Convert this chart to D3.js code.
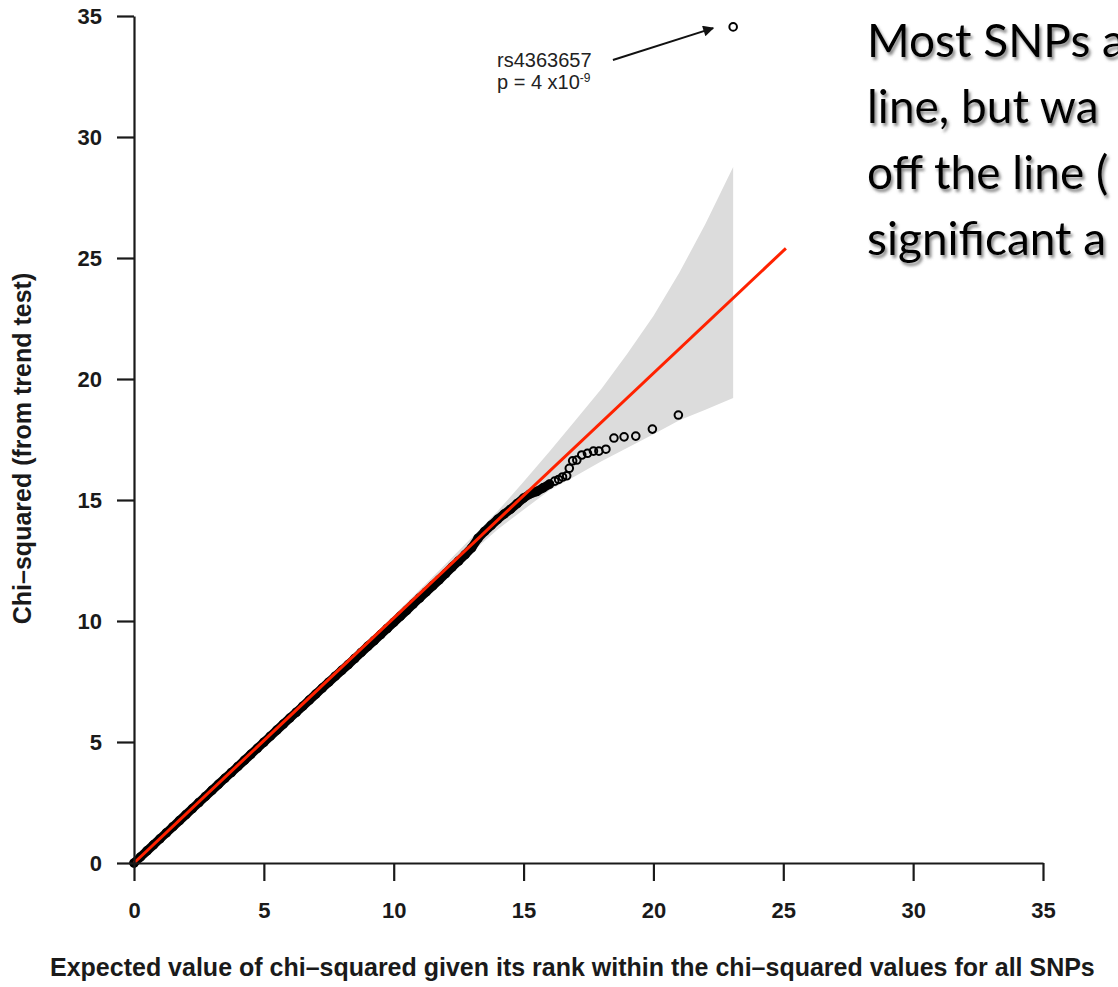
<!DOCTYPE html>
<html>
<head>
<meta charset="utf-8">
<script src="https://cdn.jsdelivr.net/npm/d3@7"></script>
<style>
  body { margin: 0; background: #fff; }
  svg { display: block; }
</style>
</head>
<body>
<div id="chart"></div>
<script>
const W = 1118, H = 987;

// axis ticks
const xTicks = [0, 5, 10, 15, 20, 25, 30, 35];
const yTicks = [0, 5, 10, 15, 20, 25, 30, 35];

// dense part of the QQ cloud (expected, observed)
const densePoints = [
  [0,0],[0.25,0.25],[0.5,0.5],[0.75,0.75],[1,1],[1.25,1.25],[1.5,1.5],[1.75,1.75],[2,2],
  [2.25,2.25],[2.5,2.5],[2.75,2.75],[3,3],[3.25,3.25],[3.5,3.5],[3.75,3.74],[4,3.99],
  [4.25,4.24],[4.5,4.49],[4.75,4.74],[5,4.99],[5.25,5.24],[5.5,5.49],[5.75,5.74],[6,5.99],
  [6.25,6.23],[6.5,6.48],[6.75,6.73],[7,6.98],[7.25,7.23],[7.5,7.47],[7.75,7.72],[8,7.96],
  [8.25,8.2],[8.5,8.45],[8.75,8.7],[9,8.95],[9.25,9.19],[9.5,9.44],[9.75,9.69],[10,9.94],
  [10.25,10.19],[10.5,10.44],[10.75,10.7],[11,10.95],[11.25,11.2],[11.5,11.45],[11.75,11.7],
  [12,11.96],[12.25,12.23],[12.5,12.48],[12.75,12.74],[13,13.02],[13.25,13.42],[13.5,13.7],
  [13.75,13.95],[14,14.2],[14.25,14.42],[14.5,14.62],[14.75,14.85],[15,15.08],[15.25,15.25],
  [15.5,15.35],[15.75,15.5],[16,15.66]
];

// sparse tail of the QQ plot
const tailPoints = [
  [16.2,15.78],[16.35,15.85],[16.5,15.95],[16.66,16.0],[16.76,16.31],[16.89,16.62],
  [17.05,16.65],[17.24,16.86],[17.46,16.93],[17.69,17.02],[17.9,17.02],[18.17,17.1],
  [18.48,17.56],[18.87,17.61],[19.32,17.64],[19.96,17.93],[20.96,18.51],[23.07,34.55]
];

// grey envelope
const bandX     = [0, 5, 8, 10, 12, 14, 15, 16, 17, 18, 19, 20, 21, 22, 23.07];
const bandUpper = [0, 5.09, 8.15, 10.23, 12.36, 14.54, 15.75, 17.0, 18.3, 19.6, 21.05, 22.6, 24.4, 26.4, 28.76];
const bandLower = [0, 5.03, 8.02, 9.98, 11.9, 13.78, 14.6, 15.4, 15.99, 16.6, 17.16, 17.72, 18.3, 18.73, 19.21];

// reference line
const refLine = [[0, 0], [25.1, 25.4]];

// annotation
const arrowFrom = [18.44, 33.18];
const arrowTo = [22.3, 34.5];
const snpLabel = "rs4363657";

const noteLines = ["Most SNPs a", "line, but wa", "off the line (", "significant a"];

const svg = d3.select("#chart").append("svg")
  .attr("width", W)
  .attr("height", H)
  .style("background", "#fff");

const defs = svg.append("defs");
const shadow = defs.append("filter").attr("id", "shadow")
  .attr("x", "-10%").attr("y", "-10%").attr("width", "130%").attr("height", "140%");
shadow.append("feDropShadow")
  .attr("dx", 2).attr("dy", 3).attr("stdDeviation", 1.6)
  .attr("flood-color", "#555").attr("flood-opacity", 0.7);

defs.append("marker").attr("id", "arrow")
  .attr("viewBox", "0 0 10 10").attr("refX", 9).attr("refY", 5)
  .attr("markerWidth", 13).attr("markerHeight", 11)
  .attr("markerUnits", "userSpaceOnUse")
  .attr("orient", "auto")
  .append("path").attr("d", "M0,0 L10,5 L0,10 z").attr("fill", "#111");

const x = d3.scaleLinear().domain([0, 35]).range([134, 1043]);
const y = d3.scaleLinear().domain([0, 35]).range([863, 16]);

// envelope
const band = bandX.map((v, i) => [v, bandLower[i], bandUpper[i]]);
svg.append("path")
  .datum(band)
  .attr("fill", "#dcdcdc")
  .attr("d", d3.area().x(d => x(d[0])).y0(d => y(d[1])).y1(d => y(d[2])));

// dense cloud of points
svg.append("path")
  .datum(densePoints)
  .attr("fill", "none")
  .attr("stroke", "#000")
  .attr("stroke-width", 9)
  .attr("stroke-linecap", "round")
  .attr("d", d3.line().x(d => x(d[0])).y(d => y(d[1])));

svg.append("g")
  .selectAll("circle")
  .data(densePoints.concat(tailPoints))
  .join("circle")
  .attr("cx", d => x(d[0]))
  .attr("cy", d => y(d[1]))
  .attr("r", 3.8)
  .attr("fill", "none")
  .attr("stroke", "#000")
  .attr("stroke-width", 2);

// red line
svg.append("path")
  .datum(refLine)
  .attr("fill", "none")
  .attr("stroke", "#ff2200")
  .attr("stroke-width", 3)
  .attr("d", d3.line().x(d => x(d[0])).y(d => y(d[1])));

// axes
const axisFont = "'Liberation Sans', Arial, Helvetica, sans-serif";
const xAxis = svg.append("g")
  .attr("transform", `translate(0,${y(0)})`)
  .call(d3.axisBottom(x).tickValues(xTicks).tickSize(18).tickSizeOuter(0).tickPadding(21));
const yAxis = svg.append("g")
  .attr("transform", `translate(${x(0)},0)`)
  .call(d3.axisLeft(y).tickValues(yTicks).tickSize(17).tickSizeOuter(0).tickPadding(15));

[xAxis, yAxis].forEach(a => {
  a.select(".domain").attr("stroke", "#1a1a1a").attr("stroke-width", 2.2);
  a.selectAll(".tick line").attr("stroke", "#1a1a1a").attr("stroke-width", 2.2);
  a.selectAll(".tick text")
    .attr("fill", "#1a1a1a")
    .style("font-family", axisFont)
    .style("font-weight", "bold")
    .style("font-size", "22px");
});

// axis titles
svg.append("text")
  .attr("x", 50)
  .attr("y", 976)
  .style("font-family", axisFont)
  .style("font-weight", "bold")
  .style("font-size", "25px")
  .attr("fill", "#1a1a1a")
  .text("Expected value of chi\u2013squared given its rank within the chi\u2013squared values for all SNPs");

svg.append("text")
  .attr("transform", `translate(31,${(y(0) + y(35)) / 2 + 9}) rotate(-90)`)
  .attr("text-anchor", "middle")
  .style("font-family", axisFont)
  .style("font-weight", "bold")
  .style("font-size", "25px")
  .attr("fill", "#1a1a1a")
  .text("Chi\u2013squared (from trend test)");

// annotation for top SNP
svg.append("line")
  .attr("x1", x(arrowFrom[0])).attr("y1", y(arrowFrom[1]))
  .attr("x2", x(arrowTo[0])).attr("y2", y(arrowTo[1]))
  .attr("stroke", "#111")
  .attr("stroke-width", 2)
  .attr("marker-end", "url(#arrow)");

const ann = svg.append("g")
  .style("font-family", axisFont)
  .style("font-size", "20px")
  .attr("fill", "#222");
ann.append("text").attr("x", 497).attr("y", 67).text(snpLabel);
const pText = ann.append("text").attr("x", 497).attr("y", 89);
pText.append("tspan").text("p = 4 x10");
pText.append("tspan").attr("dy", -7).style("font-size", "12px").text("-9");

// side note text (cut off at the right edge)
svg.append("g")
  .attr("filter", "url(#shadow)")
  .selectAll("text")
  .data(noteLines)
  .join("text")
  .attr("x", 867)
  .attr("y", (d, i) => 57 + i * 66)
  .style("font-family", "Lato, 'Open Sans', sans-serif")
  .style("font-size", "46px")
  .attr("fill", "#000")
  .text(d => d);
</script>
</body>
</html>
